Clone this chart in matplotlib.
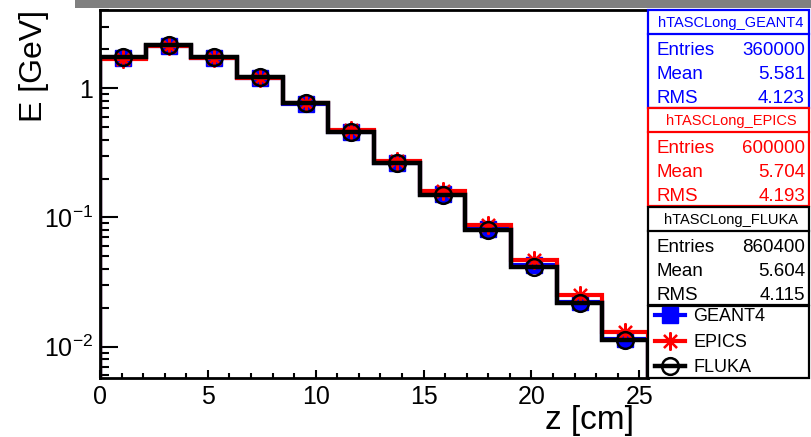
"""Longitudinal energy deposit in the TASC: GEANT4 vs EPICS vs FLUKA.

Run: python plot.py
"""
import matplotlib

matplotlib.use("Agg")
import matplotlib.pyplot as plt
import numpy as np
from matplotlib.lines import Line2D
from matplotlib.patches import Rectangle
from matplotlib.ticker import FuncFormatter, LogLocator, MultipleLocator, NullFormatter

plt.rcParams["font.family"] = ["Liberation Sans", "DejaVu Sans"]
plt.rcParams["mathtext.default"] = "regular"

W, H = 811, 437

# 12 layers, 0 - 25.4 cm
z_edges = np.linspace(0.0, 25.4, 13)
z_centers = 0.5 * (z_edges[:-1] + z_edges[1:])

# energy deposit per layer [GeV]
e_geant4 = [1.72, 2.14, 1.70, 1.21, 0.760, 0.460, 0.266, 0.152, 0.0815, 0.0426, 0.0222, 0.0115]
e_epics = [1.69, 2.13, 1.71, 1.21, 0.772, 0.476, 0.275, 0.1615, 0.0877, 0.0470, 0.0252, 0.0129]
e_fluka = [1.75, 2.16, 1.74, 1.23, 0.766, 0.457, 0.263, 0.150, 0.0802, 0.0417, 0.0217, 0.0113]

# stats box contents
stat_names = ["hTASCLong_GEANT4", "hTASCLong_EPICS", "hTASCLong_FLUKA"]
stat_entries = ["360000", "600000", "860400"]
stat_means = ["5.581", "5.704", "5.604"]
stat_rms = ["4.123", "4.193", "4.115"]
labels = ["GEANT4", "EPICS", "FLUKA"]


def fx(x):
    return x / W


def fy(y):
    return 1 - y / H


fig = plt.figure(figsize=(W / 100, H / 100), dpi=100)
ax = fig.add_axes([fx(100), fy(378), fx(648) - fx(100), fy(10) - fy(378)])

series = [
    (e_geant4, "blue", dict(marker="s", ms=11, mfc="blue", mec="blue"), 3.0),
    (e_epics, "red", dict(marker=(8, 2, 0), ms=13, mec="red", mew=1.6), 3.0),
    (e_fluka, "black", dict(marker="o", ms=12, mfc="none", mec="black", mew=1.8), 3.2),
]
handles = []
for i, (vals, col, mk, lw) in enumerate(series):
    z = 2 + i
    ax.stairs(vals, z_edges, color=col, lw=lw, zorder=z)
    ax.plot(z_centers, vals, ls="none", zorder=z + 0.5, **mk)
    handles.append(Line2D([], [], color=col, lw=lw, **mk))

ax.set_yscale("log")
ax.set_xlim(0, 25.4)
ax.set_ylim(0.00572, 4.03)

ax.xaxis.set_major_locator(MultipleLocator(5))
ax.xaxis.set_minor_locator(MultipleLocator(1))
ax.yaxis.set_major_locator(LogLocator(base=10))
ax.yaxis.set_minor_locator(LogLocator(base=10, subs=np.arange(2, 10)))
ax.yaxis.set_minor_formatter(NullFormatter())
ax.yaxis.set_major_formatter(
    FuncFormatter(lambda v, p: "1" if abs(v - 1) < 1e-9 else r"$10^{%d}$" % round(np.log10(v)))
)

ax.tick_params(axis="both", which="both", direction="in", width=1.5, labelsize=18, pad=5,
               top=False, right=False)
ax.tick_params(axis="x", which="major", length=6)
ax.tick_params(axis="x", which="minor", length=3.3)
ax.tick_params(axis="y", which="major", length=13)
ax.tick_params(axis="y", which="minor", length=6.5)
for s in ax.spines.values():
    s.set_linewidth(2)

fig.text(fx(34), fy(10), "E [GeV]", rotation=90, ha="center", va="top", fontsize=23)
fig.text(fx(634), fy(436), "z [cm]", ha="right", va="bottom", fontsize=24)

# gray bar along the top of the canvas
fig.add_artist(Rectangle((fx(75), fy(8)), fx(811) - fx(75), fy(0) - fy(8),
                         transform=fig.transFigure, color="#808080", lw=0))

# stats boxes
box_x0, box_x1 = 648, 809
tops = [10, 108, 207]
colors = ["blue", "red", "black"]
for k in range(3):
    t, c = tops[k], colors[k]
    b = t + 98
    fig.add_artist(Rectangle((fx(box_x0), fy(b)), fx(box_x1) - fx(box_x0), fy(t) - fy(b),
                             transform=fig.transFigure, fc="white", ec=c, lw=1.6, zorder=5))
    fig.add_artist(Line2D([fx(box_x0), fx(box_x1)], [fy(t + 24), fy(t + 24)],
                          transform=fig.transFigure, color=c, lw=1.6, zorder=6))
    fig.text(fx(731), fy(t + 17), stat_names[k], ha="center", va="baseline",
             fontsize=10.5, color=c, zorder=7)
    rows = [("Entries", stat_entries[k]), ("Mean", stat_means[k]), ("RMS", stat_rms[k])]
    for j, (name, val) in enumerate(rows):
        yb = t + 38 + 24 * j + 7
        fig.text(fx(656), fy(yb), name, ha="left", va="baseline", fontsize=13.5, color=c, zorder=7)
        fig.text(fx(805), fy(yb), val, ha="right", va="baseline", fontsize=13.5, color=c, zorder=7)

# legend box
fig.add_artist(Rectangle((fx(box_x0), fy(378)), fx(box_x1) - fx(box_x0), fy(306) - fy(378),
                         transform=fig.transFigure, fc="white", ec="black", lw=1.6, zorder=5))
leg = fig.legend(handles, labels, loc="upper left", bbox_to_anchor=(fx(653), fy(306)),
                 frameon=False, fontsize=13, handlelength=1.65, handletextpad=0.45,
                 labelspacing=0.48, borderpad=0.12, borderaxespad=0, numpoints=1)
leg.set_zorder(8)

fig.savefig("out.png", dpi=100)
